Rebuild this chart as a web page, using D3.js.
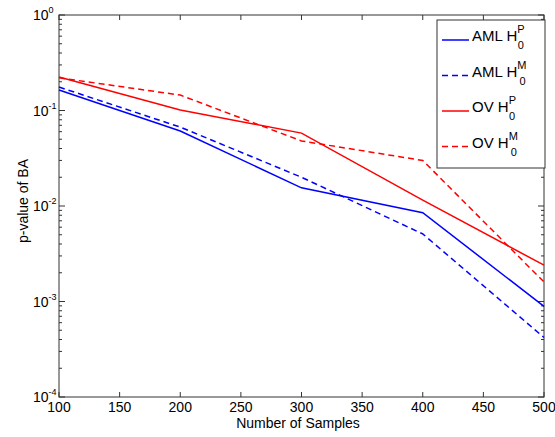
<!DOCTYPE html>
<meta charset="utf-8">
<script src="https://d3js.org/d3.v7.min.js"></script>
<style>
  body { margin: 0; background: #fff; }
  text { font-family: Arial, "Liberation Sans", sans-serif; }
</style>
<div id="my_dataviz"></div>
<script>

// data
var samples = [100, 200, 300, 400, 500];
var amlP = [0.164, 0.061, 0.0155, 0.0085, 0.00089];
var amlM = [0.176, 0.067, 0.020, 0.0051, 0.00042];
var ovP  = [0.224, 0.101, 0.058, 0.0115, 0.0024];
var ovM  = [0.220, 0.145, 0.048, 0.030, 0.0016];
var xTicks = [100, 150, 200, 250, 300, 350, 400, 450, 500];
var yTicks = [-4, -3, -2, -1, 0];

var seriesNames = ["AML", "AML", "OV", "OV"];
var seriesSup = ["P", "M", "P", "M"];
var seriesColors = ["#0000ff", "#0000ff", "#ff0000", "#ff0000"];
var seriesDash = [null, "6,4", null, "6,4"];
var seriesVals = [amlP, amlM, ovP, ovM];

var margin = {top: 15, right: 11, bottom: 40, left: 59},
    width = 555 - margin.left - margin.right,
    height = 437 - margin.top - margin.bottom;

var svg = d3.select("#my_dataviz")
  .append("svg")
    .attr("width", 555)
    .attr("height", 437)
  .append("g")
    .attr("transform", "translate(" + margin.left + "," + margin.top + ")");

var x = d3.scaleLinear().domain([100, 500]).range([0, width]);
var y = d3.scaleLog().domain([1e-4, 1]).range([height, 0]);

// minor ticks
var minor = [];
for (var e = -4; e < 0; e++) {
  for (var m = 2; m <= 9; m++) minor.push(m * Math.pow(10, e));
}

// frame
svg.append("rect")
  .attr("x", 0).attr("y", 0).attr("width", width).attr("height", height)
  .style("fill", "none").style("stroke", "#333").style("stroke-width", 1);

// x ticks (bottom and top, inward)
xTicks.forEach(function(t) {
  svg.append("line").attr("x1", x(t)).attr("x2", x(t)).attr("y1", height).attr("y2", height - 5).style("stroke", "#333");
  svg.append("line").attr("x1", x(t)).attr("x2", x(t)).attr("y1", 0).attr("y2", 5).style("stroke", "#333");
  svg.append("text").attr("x", x(t)).attr("y", height + 15)
    .attr("text-anchor", "middle").style("font-size", "14px").text(t);
});

// y ticks
yTicks.forEach(function(e) {
  var v = Math.pow(10, e);
  svg.append("line").attr("x1", 0).attr("x2", 6).attr("y1", y(v)).attr("y2", y(v)).style("stroke", "#333");
  svg.append("line").attr("x1", width).attr("x2", width - 6).attr("y1", y(v)).attr("y2", y(v)).style("stroke", "#333");
  var t = svg.append("text").attr("x", -26).attr("y", y(v) + 5)
    .attr("text-anchor", "start").style("font-size", "14px");
  t.append("tspan").text("10");
  t.append("tspan").attr("dy", -7).style("font-size", "9px").text(e);
});
minor.forEach(function(v) {
  svg.append("line").attr("x1", 0).attr("x2", 3).attr("y1", y(v)).attr("y2", y(v)).style("stroke", "#333");
  svg.append("line").attr("x1", width).attr("x2", width - 3).attr("y1", y(v)).attr("y2", y(v)).style("stroke", "#333");
});

// lines
var line = d3.line()
  .x(function(d, i) { return x(samples[i]); })
  .y(function(d) { return y(d); });

seriesVals.forEach(function(vals, k) {
  svg.append("path")
    .datum(vals)
    .attr("d", line)
    .style("fill", "none")
    .style("stroke", seriesColors[k])
    .style("stroke-width", 1.5)
    .style("stroke-dasharray", seriesDash[k]);
});

// legend
var lg = svg.append("g").attr("transform", "translate(" + (437 - margin.left) + "," + (20 - margin.top) + ")");
lg.append("rect").attr("width", 108).attr("height", 148)
  .style("fill", "#fff").style("stroke", "#333").style("stroke-width", 1);
seriesVals.forEach(function(vals, k) {
  var ly = 20 + k * 35.5;
  lg.append("line").attr("x1", 5).attr("x2", 32).attr("y1", ly).attr("y2", ly)
    .style("stroke", seriesColors[k]).style("stroke-width", 1.5)
    .style("stroke-dasharray", seriesDash[k]);
  var t = lg.append("text").attr("x", 35).attr("y", ly + 1).style("font-size", "15px");
  t.append("tspan").text(seriesNames[k] + " H");
  t.append("tspan").attr("dy", -8).style("font-size", "11px").text(seriesSup[k]);
  t.append("tspan").attr("dy", 16).attr("dx", -7).style("font-size", "11px").text("0");
});

// axis labels
svg.append("text")
  .attr("x", 298 - margin.left).attr("y", 428 - margin.top)
  .attr("text-anchor", "middle").style("font-size", "14px").text("Number of Samples");
svg.append("text")
  .attr("transform", "translate(" + (28 - margin.left) + "," + (201 - margin.top) + ") rotate(-90)")
  .attr("text-anchor", "middle").style("font-size", "14px").text("p-value of BA");

</script>
